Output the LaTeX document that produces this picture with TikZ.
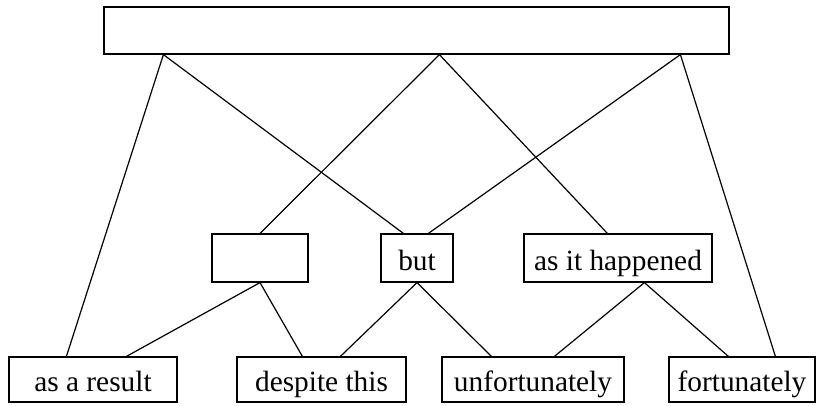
\documentclass[tikz,border=0pt]{standalone}
\usepackage{fontspec}
\setmainfont{Liberation Serif}
\usetikzlibrary{calc}

\tikzset{
  box/.style={draw, line width=0.9pt, inner sep=0pt, font=\fontsize{22}{26}\selectfont, text height=20pt, text depth=2pt},
  link/.style={line width=0.9pt}
}

\begin{document}
\begin{tikzpicture}[x=0.75pt,y=0.75pt,yscale=-1,xscale=1]
\useasboundingbox (0,0) rectangle (828,405);

%Shape: Rectangle [id:top]
\node (top) at (416.5,30.5) [box, minimum width=468.75pt, minimum height=35.25pt] {};

%Shape: Rectangle [id:middle row]
\node (emp) at (260,258) [box, minimum width=72pt, minimum height=36pt] {};
\node (but) at (417,258) [box, minimum width=54pt, minimum height=36pt] {but};
\node (hap) at (618,258) [box, minimum width=141pt, minimum height=36pt] {as it happened};

%Shape: Rectangle [id:bottom row]
\node (res) at (93,379.5) [box, minimum width=126pt, minimum height=33.75pt] {as a result};
\node (des) at (321.5,379.5) [box, minimum width=126.75pt, minimum height=33.75pt] {despite this};
\node (unf) at (533,379.5) [box, minimum width=136.5pt, minimum height=33.75pt] {unfortunately};
\node (frt) at (742,379.5) [box, minimum width=109.5pt, minimum height=33.75pt] {fortunately};

% end points on the box edges
\coordinate (topL) at ($(top.south west)+(60,0)$);
\coordinate (topM) at ($(top.south west)+(336,0)$);
\coordinate (topR) at ($(top.south west)+(577,0)$);
\coordinate (butL) at ($(but.north west)+(23,0)$);
\coordinate (butR) at ($(but.north west)+(48,0)$);
\coordinate (hapN) at ($(hap.north west)+(84,0)$);
\coordinate (hapS) at ($(hap.south west)+(121,0)$);
\coordinate (res1) at ($(res.north west)+(58,0)$);
\coordinate (res2) at ($(res.north west)+(118,0)$);
\coordinate (des1) at ($(des.north west)+(66,0)$);
\coordinate (des2) at ($(des.north west)+(104,0)$);
\coordinate (unf1) at ($(unf.north west)+(50,0)$);
\coordinate (unf2) at ($(unf.north west)+(113,0)$);
\coordinate (frt1) at ($(frt.north west)+(60,0)$);
\coordinate (frt2) at ($(frt.north west)+(107,0)$);

%Straight Lines [id:top to the rows]
\draw [link] (topL) -- (res1) ;
\draw [link] (topL) -- (butL) ;
\draw [link] (topM) -- (emp.north) ;
\draw [link] (topM) -- (hapN) ;
\draw [link] (topR) -- (butR) ;
\draw [link] (topR) -- (frt2) ;
%Straight Lines [id:middle to bottom]
\draw [link] (emp.south) -- (res2) ;
\draw [link] (emp.south) -- (des1) ;
\draw [link] (but.south) -- (des2) ;
\draw [link] (but.south) -- (unf1) ;
\draw [link] (hapS) -- (unf2) ;
\draw [link] (hapS) -- (frt1) ;

\end{tikzpicture}
\end{document}
